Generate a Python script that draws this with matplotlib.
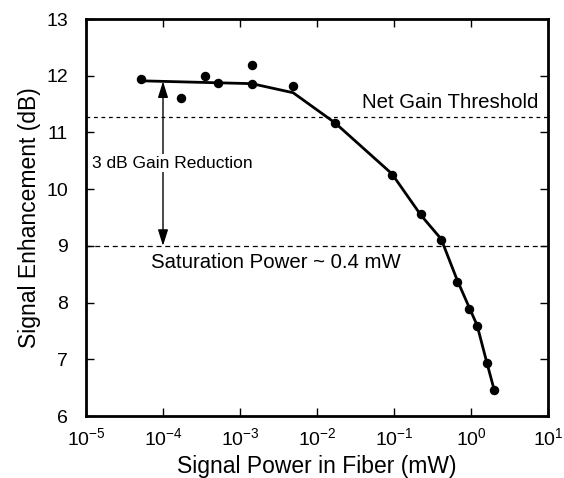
import matplotlib
matplotlib.use('Agg')
import matplotlib.pyplot as plt

plt.rcParams.update({
    'font.family': ['Liberation Sans', 'DejaVu Sans'],
    'font.size': 12,
    'mathtext.default': 'regular',
})

# measured points
power_mw = [5.2e-5, 1.71e-4, 3.5e-4, 5.2e-4, 1.43e-3, 1.43e-3, 4.9e-3,
            0.0171, 0.094, 0.224, 0.407, 0.658, 0.94, 1.2, 1.61, 1.99]
enh_db = [11.94, 11.61, 11.99, 11.87, 12.19, 11.85, 11.82,
          11.17, 10.25, 9.56, 9.10, 8.36, 7.89, 7.59, 6.93, 6.46]

# fitted curve
fit_mw = [5.2e-5, 1.43e-3, 4.9e-3, 0.0171, 0.094, 0.224, 0.41,
          0.66, 0.95, 1.2, 1.6, 2.0]
fit_db = [11.91, 11.86, 11.70, 11.17, 10.27, 9.54, 9.12,
          8.40, 7.91, 7.60, 6.95, 6.46]

net_gain_db = 11.27
sat_db = 9.0

fig = plt.figure(figsize=(5.64, 4.78), dpi=100)
ax = fig.add_axes([86 / 564, 1 - 416 / 478, 462 / 564, 397 / 478])

ax.plot(fit_mw, fit_db, '-', color='black', lw=2, zorder=3)
ax.plot(power_mw, enh_db, 'o', color='black', ms=5.8, zorder=4)

ax.axhline(net_gain_db, color='black', ls=(0, (3, 3)), lw=0.9)
ax.axhline(sat_db, color='black', ls=(0, (4, 3)), lw=0.9)

ax.annotate('', xy=(1e-4, sat_db), xytext=(1e-4, 11.90),
            arrowprops=dict(arrowstyle='<|-|>,head_length=0.7,head_width=0.22',
                            color='black', lw=1.0,
                            mutation_scale=14, shrinkA=0, shrinkB=0))
ax.text(1.2e-5, 10.46, '3 dB Gain Reduction', fontsize=12.5, va='center',
        ha='left', bbox=dict(fc='white', ec='none', pad=1), zorder=5)
ax.text(7.4, 11.52, 'Net Gain Threshold', fontsize=14.7, ha='right',
        va='center')
ax.text(7.0e-5, 8.71, 'Saturation Power ~ 0.4 mW', fontsize=14.7,
        ha='left', va='center')

ax.set_xscale('log')
ax.set_xlim(1e-5, 10)
ax.set_ylim(6, 13)
ax.set_xticks([1e-5, 1e-4, 1e-3, 1e-2, 1e-1, 1e0, 1e1])
ax.set_xticklabels(['$10^{-5}$', '$10^{-4}$', '$10^{-3}$', '$10^{-2}$',
                    '$10^{-1}$', '$10^{0}$', '$10^{1}$'])
ax.minorticks_off()
ax.set_yticks(range(6, 14))
ax.tick_params(direction='in', length=6, width=1, top=True, right=True,
               labelsize=14)
ax.tick_params(axis='y', pad=13)
ax.tick_params(axis='x', pad=8)
for s in ax.spines.values():
    s.set_linewidth(2)

ax.set_xlabel('Signal Power in Fiber (mW)', fontsize=16.5, labelpad=4)
ax.set_ylabel('Signal Enhancement (dB)', fontsize=16.5, labelpad=4)

fig.savefig('out.png', dpi=100, facecolor='white')
